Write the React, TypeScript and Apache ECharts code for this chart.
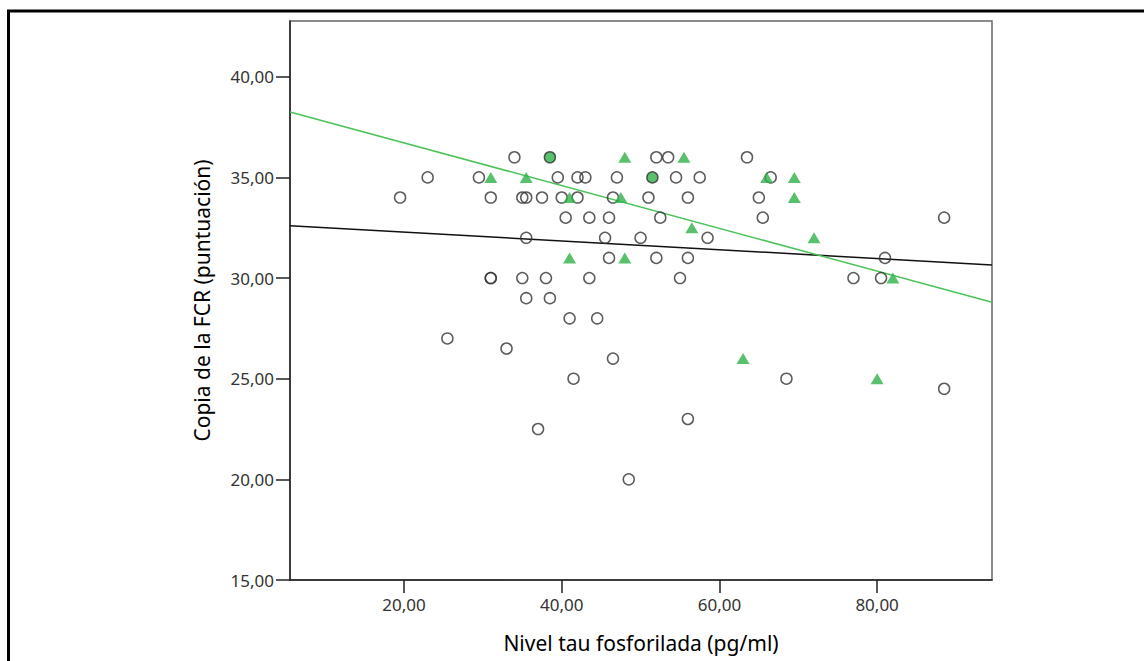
import React, { useEffect, useRef } from "react";
import * as echarts from "echarts";

// Nivel tau fosforilada (pg/ml) vs Copia de la FCR (puntuación)
const circlePoints: [number, number][] = [
  [19.5, 34], [23, 35], [25.5, 27], [29.5, 35], [31, 34], [31, 30], [31, 30],
  [33, 26.5], [34, 36], [35, 34], [35.5, 34], [35, 30], [35.5, 32], [35.5, 29],
  [37, 22.5], [37.5, 34], [38, 30], [38.5, 29], [39.5, 35], [40, 34], [40.5, 33],
  [41, 28], [41.5, 25], [42, 35], [42, 34], [43, 35], [43.5, 33], [43.5, 30],
  [44.5, 28], [45.5, 32], [46, 33], [46, 31], [46.5, 34], [46.5, 26], [47, 35],
  [48.5, 20], [50, 32], [51, 34], [52, 36], [52, 31], [52.5, 33], [53.5, 36],
  [54.5, 35], [55, 30], [56, 34], [56, 31], [56, 23], [57.5, 35], [58.5, 32],
  [63.5, 36], [65, 34], [65.5, 33], [66.5, 35], [68.5, 25], [77, 30], [80.5, 30],
  [81, 31], [88.5, 33], [88.5, 24.5],
];
const filledCirclePoints: [number, number][] = [[38.5, 36], [51.5, 35]];
const trianglePoints: [number, number][] = [
  [31, 35], [35.5, 35], [41, 34], [41, 31], [48, 36], [47.5, 34], [48, 31],
  [55.5, 36], [56.5, 32.5], [63, 26], [66, 35], [69.5, 35], [69.5, 34], [72, 32],
  [80, 25], [82, 30],
];
const fitLineTotal: [number, number][] = [[5.54, 32.6], [94.57, 30.65]];
const fitLineGreen: [number, number][] = [[5.54, 38.25], [94.57, 28.8]];
const xTicks = [20, 40, 60, 80];
const yTicks = [15, 20, 25, 30, 35, 40];
const xRange = [5.54, 94.57];
const yRange = [15, 42.77];

const fmt = (v: number) => v.toFixed(2).replace(".", ",");
const GREEN = "#2fb14a";

export default function App() {
  const ref = useRef<HTMLDivElement>(null);
  useEffect(() => {
    if (!ref.current) return;
    const chart = echarts.init(ref.current, undefined, { renderer: "svg" });
    const axisText = { color: "#333", fontFamily: "Noto Sans", fontSize: 17 };
    chart.setOption({
      animation: false,
      backgroundColor: "#fff",
      graphic: [
        {
          type: "rect",
          shape: { x: 8.5, y: 11, width: 1400, height: 1000 },
          style: { fill: "none", stroke: "#000", lineWidth: 3 },
          silent: true,
        },
      ],
      grid: { left: 290, top: 21, right: 152, bottom: 81, show: true, borderColor: "#666", borderWidth: 1.5 },
      xAxis: {
        type: "value",
        min: xRange[0],
        max: xRange[1],
        name: "Nivel tau fosforilada (pg/ml)",
        nameLocation: "middle",
        nameGap: 52,
        nameTextStyle: { color: "#000", fontFamily: "Noto Sans", fontSize: 21 },
        axisLine: { onZero: false, lineStyle: { color: "#222", width: 1.5 } },
        axisTick: { show: true, length: 13, customValues: xTicks, lineStyle: { color: "#222", width: 1.5 } },
        axisLabel: { ...axisText, margin: 16, customValues: xTicks, formatter: (v: number) => fmt(v) },
        splitLine: { show: false },
      },
      yAxis: {
        type: "value",
        min: yRange[0],
        max: yRange[1],
        name: "Copia de la FCR (puntuación)",
        nameLocation: "middle",
        nameGap: 78,
        nameRotate: 90,
        nameTextStyle: { color: "#000", fontFamily: "Noto Sans", fontSize: 21 },
        axisLine: { onZero: false, lineStyle: { color: "#222", width: 1.5 } },
        axisTick: { show: true, length: 14, customValues: yTicks, lineStyle: { color: "#222", width: 1.5 } },
        axisLabel: { ...axisText, margin: 16, customValues: yTicks, formatter: (v: number) => fmt(v) },
        splitLine: { show: false },
      },
      series: [
        {
          type: "line",
          data: fitLineTotal,
          symbol: "none",
          lineStyle: { color: "#111", width: 1.5 },
          silent: true,
          z: 1,
        },
        {
          type: "line",
          data: fitLineGreen,
          symbol: "none",
          lineStyle: { color: "#4cc35a", width: 1.5 },
          silent: true,
          z: 1,
        },
        {
          type: "scatter",
          data: circlePoints,
          symbol: "circle",
          symbolSize: 11,
          itemStyle: { color: "rgba(0,0,0,0)", borderColor: "#333", borderWidth: 1.5 },
          z: 3,
        },
        {
          type: "scatter",
          data: trianglePoints,
          symbol: "triangle",
          symbolSize: [13, 11],
          itemStyle: { color: GREEN },
          z: 4,
        },
        {
          type: "scatter",
          data: filledCirclePoints,
          symbol: "circle",
          symbolSize: 11,
          itemStyle: { color: GREEN, borderColor: "#333", borderWidth: 1.5 },
          z: 5,
        },
      ],
    });
    return () => chart.dispose();
  }, []);
  return (
    <div
      ref={ref}
      style={{ position: "fixed", left: 0, top: 0, width: 1144, height: 661 }}
    />
  );
}
